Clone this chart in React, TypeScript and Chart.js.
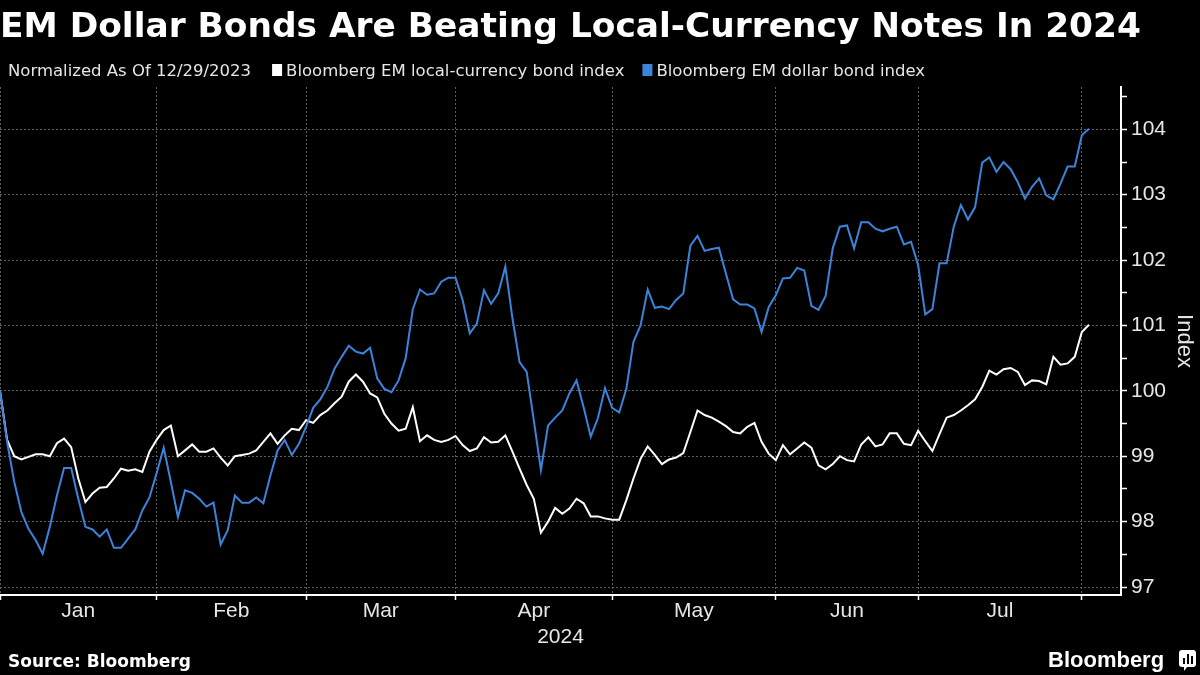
import React, { useEffect, useRef } from 'react';
import { Chart, registerables } from 'chart.js';

Chart.register(...registerables);

const TITLE = 'EM Dollar Bonds Are Beating Local-Currency Notes In 2024';
const SUBTITLE = 'Normalized As Of 12/29/2023';
const SERIES_NAMES = ['Bloomberg EM local-currency bond index', 'Bloomberg EM dollar bond index'];
const SOURCE = 'Source: Bloomberg';
const Y_TITLE = 'Index';
const YEAR_LABEL = '2024';
const MONTH_LABELS = ['Jan', 'Feb', 'Mar', 'Apr', 'May', 'Jun', 'Jul'];
// trading-day index of first session of each month (Dec 29, 2023 = 0)
const MONTH_START_INDEX = [0, 22, 43, 64, 86, 109, 129, 152];
const Y_MAJOR_TICKS = [97, 98, 99, 100, 101, 102, 103, 104];
const Y_MINOR_TICKS = [97.5, 98.5, 99.5, 100.5, 101.5, 102.5, 103.5, 104.5];

const LOCAL_CURRENCY_INDEX = [
  100.0, 99.25, 99.0, 98.95, 98.99, 99.03, 99.03, 99.0, 99.2, 99.27,
  99.14, 98.66, 98.3, 98.43, 98.52, 98.53, 98.66, 98.81, 98.78, 98.8,
  98.76, 99.07, 99.25, 99.4, 99.47, 99.0, 99.09, 99.18, 99.07, 99.07,
  99.12, 98.98, 98.86, 99.0, 99.02, 99.04, 99.09, 99.22, 99.35, 99.19,
  99.32, 99.42, 99.4, 99.55, 99.51, 99.63, 99.7, 99.81, 99.91, 100.14,
  100.25, 100.14, 99.96, 99.9, 99.65, 99.5, 99.39, 99.42, 99.75, 99.23,
  99.32, 99.25, 99.22, 99.25, 99.31, 99.17, 99.08, 99.12, 99.29, 99.21,
  99.22, 99.32, 99.07, 98.81, 98.56, 98.35, 97.83, 98.0, 98.21, 98.12,
  98.2, 98.35, 98.28, 98.08, 98.08, 98.05, 98.03, 98.03, 98.33, 98.66,
  98.96, 99.15, 99.02, 98.88, 98.95, 98.98, 99.05, 99.37, 99.7, 99.63,
  99.59, 99.53, 99.46, 99.37, 99.35, 99.45, 99.51, 99.22, 99.04, 98.94,
  99.17, 99.03, 99.12, 99.21, 99.13, 98.86, 98.8, 98.88, 99.0, 98.94,
  98.92, 99.18, 99.29, 99.15, 99.18, 99.35, 99.35, 99.19, 99.17, 99.39,
  99.23, 99.08, 99.34, 99.59, 99.63, 99.7, 99.78, 99.87, 100.06, 100.31,
  100.25, 100.33, 100.35, 100.29, 100.09, 100.16, 100.15, 100.1, 100.52, 100.4,
  100.42, 100.52, 100.9, 101.01,
];

const DOLLAR_INDEX = [
  100.0, 99.22, 98.61, 98.15, 97.89, 97.72, 97.51, 97.92, 98.4, 98.82,
  98.82, 98.35, 97.92, 97.88, 97.77, 97.88, 97.6, 97.6, 97.74, 97.88,
  98.17, 98.37, 98.74, 99.13, 98.61, 98.07, 98.48, 98.44, 98.35, 98.23,
  98.29, 97.65, 97.87, 98.4, 98.29, 98.29, 98.37, 98.28, 98.71, 99.09,
  99.25, 99.02, 99.19, 99.45, 99.74, 99.87, 100.06, 100.34, 100.52, 100.69,
  100.6, 100.57, 100.66, 100.19, 100.03, 99.98, 100.16, 100.5, 101.25, 101.55,
  101.47, 101.49, 101.67, 101.73, 101.73, 101.39, 100.88, 101.03, 101.54, 101.33,
  101.49, 101.9, 101.11, 100.44, 100.29, 99.55, 98.79, 99.47, 99.59, 99.7,
  99.96, 100.16, 99.75, 99.3, 99.58, 100.04, 99.74, 99.67, 100.03, 100.75,
  101.0, 101.55, 101.27, 101.29, 101.25, 101.39, 101.49, 102.22, 102.37, 102.14,
  102.17, 102.19, 101.79, 101.4, 101.32, 101.32, 101.26, 100.9, 101.28, 101.46,
  101.72, 101.73, 101.88, 101.84, 101.3, 101.24, 101.45, 102.18, 102.51, 102.53,
  102.18, 102.58, 102.58, 102.48, 102.44, 102.48, 102.51, 102.24, 102.28, 101.92,
  101.17, 101.25, 101.95, 101.95, 102.51, 102.84, 102.62, 102.81, 103.49, 103.57,
  103.35, 103.5, 103.39, 103.19, 102.94, 103.12, 103.25, 102.99, 102.93, 103.17,
  103.43, 103.43, 103.91, 104.01,
];

const WHITE = '#ffffff';
const BLUE = '#3b84da';
const GRID = '#5e5e5e';
const TEXT = '#e6e6e6';
const SANS = '"DejaVu Sans", sans-serif';
const TICK_FONT = '"Liberation Sans", Arial, sans-serif';

const textPlugin = {
  id: 'bbgText',
  afterDraw(chart: any) {
    const { ctx, chartArea } = chart;
    const xs = chart.scales.x;
    ctx.save();
    // Title
    ctx.fillStyle = WHITE;
    ctx.textBaseline = 'alphabetic';
    ctx.textAlign = 'left';
    ctx.font = `bold 34.4px ${SANS}`;
    ctx.fillText(TITLE, 0, 37);

    // Subtitle + legend
    ctx.font = `16.5px ${SANS}`;
    ctx.fillStyle = TEXT;
    const baseY = 76;
    ctx.fillText(SUBTITLE, 8, baseY);
    let x = 8 + ctx.measureText(SUBTITLE).width + 21;
    const colors = [WHITE, BLUE];
    SERIES_NAMES.forEach((name, i) => {
      ctx.fillStyle = colors[i];
      ctx.fillRect(x, 64, 10, 12);
      x += 14;
      ctx.fillStyle = TEXT;
      ctx.fillText(name, x, baseY);
      x += ctx.measureText(name).width + 18;
    });

    // Month labels
    ctx.font = `21px ${TICK_FONT}`;
    ctx.fillStyle = TEXT;
    ctx.textAlign = 'center';
    for (let i = 0; i < MONTH_LABELS.length; i++) {
      const a = xs.getPixelForValue(MONTH_START_INDEX[i]);
      const b = xs.getPixelForValue(MONTH_START_INDEX[i + 1]);
      ctx.fillText(MONTH_LABELS[i], (a + b) / 2, 617);
    }
    ctx.fillText(YEAR_LABEL, (chartArea.left + chartArea.right) / 2, 643);

    // Footer
    ctx.textAlign = 'left';
    ctx.fillStyle = WHITE;
    ctx.font = `bold 17px ${SANS}`;
    ctx.fillText(SOURCE, 8, 667);
    ctx.font = `bold 22px ${TICK_FONT}`;
    ctx.fillText('Bloomberg', 1048, 667);

    // logo icon
    const lx = 1179, ly = 650, lw = 17, lh = 17, r = 3;
    ctx.beginPath();
    ctx.moveTo(lx + r, ly);
    ctx.lineTo(lx + lw - r, ly);
    ctx.quadraticCurveTo(lx + lw, ly, lx + lw, ly + r);
    ctx.lineTo(lx + lw, ly + lh - r);
    ctx.quadraticCurveTo(lx + lw, ly + lh, lx + lw - r, ly + lh);
    ctx.lineTo(lx + 8, ly + lh);
    ctx.lineTo(lx + 5, ly + lh + 4);
    ctx.lineTo(lx + 5, ly + lh);
    ctx.lineTo(lx + r, ly + lh);
    ctx.quadraticCurveTo(lx, ly + lh, lx, ly + lh - r);
    ctx.lineTo(lx, ly + r);
    ctx.quadraticCurveTo(lx, ly, lx + r, ly);
    ctx.closePath();
    ctx.fill();
    ctx.fillStyle = '#000';
    ctx.fillRect(lx + 4, ly + 8, 2, 6);
    ctx.fillRect(lx + 8, ly + 4, 2, 10);
    ctx.fillRect(lx + 12, ly + 6, 2, 8);
    ctx.restore();
  },
};

export default function App() {
  const ref = useRef<HTMLCanvasElement | null>(null);

  useEffect(() => {
    if (!ref.current) return;
    const toPoints = (arr: number[]) => arr.map((v, i) => ({ x: i, y: v }));
    const chart = new Chart(ref.current, {
      type: 'line',
      data: {
        datasets: [
          {
            label: SERIES_NAMES[0],
            data: toPoints(LOCAL_CURRENCY_INDEX),
            borderColor: WHITE,
            borderWidth: 2,
            pointRadius: 0,
            tension: 0,
            order: 1,
          },
          {
            label: SERIES_NAMES[1],
            data: toPoints(DOLLAR_INDEX),
            borderColor: BLUE,
            borderWidth: 2,
            pointRadius: 0,
            tension: 0,
            order: 0,
          },
        ],
      },
      options: {
        responsive: false,
        animation: false,
        layout: { padding: { top: 87, bottom: 30, left: 0, right: 0 } },
        plugins: { legend: { display: false }, tooltip: { enabled: false }, title: { display: false } },
        scales: {
          x: {
            type: 'linear',
            min: 0,
            max: 157.5,
            afterBuildTicks: (s: any) => {
              s.ticks = MONTH_START_INDEX.map((v) => ({ value: v }));
            },
            afterFit: (s: any) => {
              s.height = 50;
            },
            ticks: { display: false },
            grid: {
              color: GRID,
              lineWidth: 1,
              tickColor: WHITE,
              tickLength: 5,
              tickWidth: 1.5,
            },
            border: { display: true, color: WHITE, width: 2, dash: [2, 2] },
          },
          y: {
            position: 'right',
            min: 96.878,
            max: 104.647,
            afterBuildTicks: (s: any) => {
              s.ticks = [...Y_MAJOR_TICKS, ...Y_MINOR_TICKS]
                .sort((a, b) => a - b)
                .map((v) => ({ value: v }));
            },
            afterFit: (s: any) => {
              s.width = 79;
            },
            ticks: {
              color: TEXT,
              padding: 4,
              font: { family: TICK_FONT, size: 21 },
              callback: (v: any) => (Y_MAJOR_TICKS.includes(Number(v)) ? String(v) : ''),
            },
            grid: {
              color: (c: any) => (Y_MAJOR_TICKS.includes(c.tick?.value) ? GRID : 'rgba(0,0,0,0)'),
              lineWidth: 1,
              tickColor: WHITE,
              tickLength: 6,
              tickWidth: 1.5,
            },
            border: { display: true, color: WHITE, width: 2, dash: [2, 2] },
            title: {
              display: true,
              text: Y_TITLE,
              color: TEXT,
              font: { family: TICK_FONT, size: 22 },
              padding: { top: 3, bottom: 0 },
            },
          },
        },
      },
      plugins: [textPlugin],
    } as any);
    return () => chart.destroy();
  }, []);

  return (
    <div style={{ position: 'absolute', left: 0, top: 0, width: 1200, height: 675, background: '#000', overflow: 'hidden' }}>
      <canvas ref={ref} width={1200} height={675} style={{ display: 'block', width: 1200, height: 675 }} />
    </div>
  );
}
